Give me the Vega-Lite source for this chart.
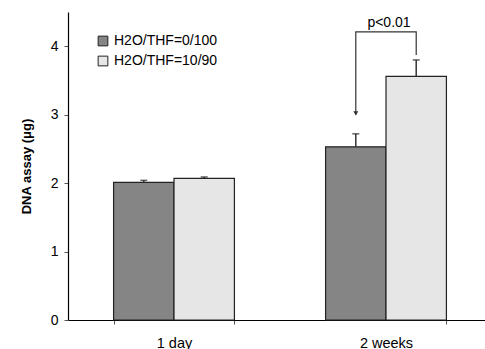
{
  "$schema": "https://vega.github.io/schema/vega-lite/v6.json",
  "autosize": {"type": "none"},
  "padding": {"left": 68, "top": 12, "right": 0, "bottom": 29},
  "width": 417,
  "height": 308,
  "config": {
    "view": {"stroke": null},
    "font": "Liberation Sans",
    "axis": {"grid": false, "domainColor": "#000", "tickColor": "#555", "labelColor": "#000", "titleColor": "#000"}
  },
  "datasets": {
    "bars": [
      {"time": "1 day", "group": "H2O/THF=0/100", "value": 2.01, "top": 2.04},
      {"time": "1 day", "group": "H2O/THF=10/90", "value": 2.07, "top": 2.09},
      {"time": "2 weeks", "group": "H2O/THF=0/100", "value": 2.53, "top": 2.72},
      {"time": "2 weeks", "group": "H2O/THF=10/90", "value": 3.56, "top": 3.8}
    ],
    "bracket": [
      {"time": "2 weeks", "group": "H2O/THF=0/100", "y": 3.0, "o": 1},
      {"time": "2 weeks", "group": "H2O/THF=0/100", "y": 4.21, "o": 2},
      {"time": "2 weeks", "group": "H2O/THF=10/90", "y": 4.21, "o": 3},
      {"time": "2 weeks", "group": "H2O/THF=10/90", "y": 3.87, "o": 4}
    ],
    "arrow": [
      {"time": "2 weeks", "group": "H2O/THF=0/100", "y": 3.02}
    ],
    "label": [
      {"time": "2 weeks", "text": "p<0.01", "y": 4.23}
    ]
  },
  "encoding": {
    "x": {
      "field": "time", "type": "nominal",
      "scale": {"domain": ["1 day", "2 weeks"], "range": [0, 424], "paddingInner": 0.43, "paddingOuter": 0.215},
      "axis": {"title": null, "labelAngle": 0, "tickBand": "extent", "tickSize": 4, "labelFontSize": 14.5, "labelPadding": 12, "domainWidth": 1.2}
    }
  },
  "layer": [
    {
      "data": {"name": "bars"},
      "mark": {"type": "bar", "stroke": "#222", "strokeWidth": 1.2},
      "encoding": {
        "xOffset": {"field": "group", "type": "nominal", "scale": {"domain": ["H2O/THF=0/100", "H2O/THF=10/90"], "paddingInner": 0, "paddingOuter": 0}},
        "y": {
          "field": "value", "type": "quantitative",
          "scale": {"domain": [0, 4.5], "nice": false},
          "axis": {"title": "DNA assay (μg)", "titleFontSize": 13, "titleFontWeight": "bold", "titlePadding": 17, "values": [0, 1, 2, 3, 4], "format": "d", "tickSize": 4, "labelFontSize": 14, "labelPadding": 6, "domainWidth": 1.2}
        },
        "fill": {
          "field": "group", "type": "nominal",
          "scale": {"domain": ["H2O/THF=0/100", "H2O/THF=10/90"], "range": ["#858585", "#e6e6e6"]},
          "legend": {
            "title": null, "orient": "none", "legendX": 28, "legendY": 22,
            "symbolType": "square", "symbolSize": 95, "symbolStrokeColor": "#222", "symbolStrokeWidth": 1,
            "labelFontSize": 14, "labelOffset": 4, "rowPadding": 6, "padding": 0, "labelColor": "#000"
          }
        }
      }
    },
    {
      "data": {"name": "bars"},
      "mark": {"type": "rule", "color": "#333", "strokeWidth": 1.5},
      "encoding": {
        "xOffset": {"field": "group", "type": "nominal"},
        "y": {"field": "value", "type": "quantitative"},
        "y2": {"field": "top"}
      }
    },
    {
      "data": {"name": "bars"},
      "mark": {"type": "tick", "color": "#222", "size": 7, "thickness": 1.5},
      "encoding": {
        "xOffset": {"field": "group", "type": "nominal"},
        "y": {"field": "top", "type": "quantitative"}
      }
    },
    {
      "data": {"name": "bracket"},
      "mark": {"type": "line", "color": "#333", "strokeWidth": 1.2},
      "encoding": {
        "xOffset": {"field": "group", "type": "nominal"},
        "y": {"field": "y", "type": "quantitative"},
        "order": {"field": "o", "type": "quantitative"}
      }
    },
    {
      "data": {"name": "arrow"},
      "mark": {"type": "point", "shape": "triangle-down", "filled": true, "color": "#333", "size": 25, "opacity": 1},
      "encoding": {
        "xOffset": {"field": "group", "type": "nominal"},
        "y": {"field": "y", "type": "quantitative"}
      }
    },
    {
      "data": {"name": "label"},
      "mark": {"type": "text", "fontSize": 14, "baseline": "bottom", "dx": 3, "color": "#000"},
      "encoding": {
        "y": {"field": "y", "type": "quantitative"},
        "text": {"field": "text"}
      }
    }
  ]
}
